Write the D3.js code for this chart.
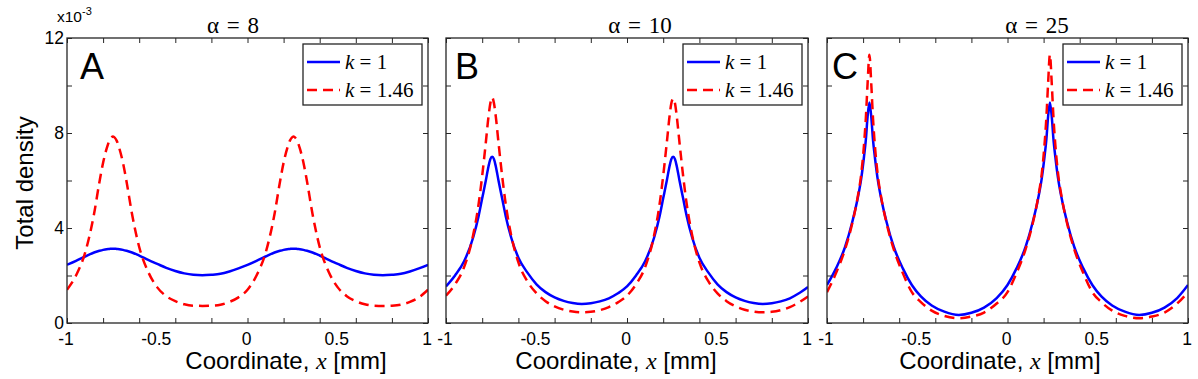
<!DOCTYPE html>
<html>
<head>
<meta charset="utf-8">
<script src="https://cdn.jsdelivr.net/npm/d3@7"></script>
<style>
  body { margin: 0; background: #fff; }
  text { font-family: "Liberation Sans", Arial, sans-serif; fill: #000; }
  .serif { font-family: "Liberation Serif", "Times New Roman", serif; }
</style>
</head>
<body>
<script>
// Total density (x10^-3)

// x grid used for panels A and B (denser near the peaks)
const xAB = [-1, -0.95, -0.9, -0.85, -0.82, -0.8, -0.78, -0.765, -0.755, -0.745,
  -0.735, -0.725, -0.71, -0.69, -0.67, -0.64, -0.6, -0.55, -0.5, -0.45, -0.4, -0.35, -0.3, -0.25,
  -0.2, -0.15, -0.1, -0.05, 0,
  0.05, 0.1, 0.15, 0.18, 0.2, 0.22, 0.235, 0.245, 0.255,
  0.265, 0.275, 0.29, 0.31, 0.33, 0.36, 0.4, 0.45, 0.5, 0.55, 0.6, 0.65, 0.7, 0.75,
  0.8, 0.85, 0.9, 0.95, 1];

// panel C peaks sit a little more to the left
const xC = [-1, -0.95, -0.9, -0.86, -0.83, -0.81, -0.795, -0.785, -0.775, -0.765,
  -0.755, -0.745, -0.735, -0.72, -0.7, -0.67, -0.63, -0.58, -0.53, -0.48,
  -0.42, -0.35, -0.27, -0.2, -0.13, -0.06, 0,
  0.05, 0.1, 0.14, 0.17, 0.19, 0.205, 0.215, 0.225, 0.235,
  0.245, 0.255, 0.265, 0.28, 0.3, 0.33, 0.37, 0.42, 0.47, 0.52,
  0.58, 0.65, 0.73, 0.8, 0.87, 0.94, 1];

// alpha = 8
const densA_k1 = [2.45, 2.62, 2.80, 2.97, 3.04, 3.08, 3.11, 3.12, 3.13, 3.13,
  3.13, 3.12, 3.11, 3.08, 3.04, 2.97, 2.84, 2.66, 2.49, 2.32, 2.19, 2.09, 2.03, 2.01,
  2.03, 2.07, 2.17, 2.30, 2.45,
  2.62, 2.80, 2.97, 3.04, 3.08, 3.11, 3.12, 3.13, 3.13,
  3.13, 3.12, 3.11, 3.08, 3.04, 2.97, 2.84, 2.66, 2.49, 2.32, 2.19, 2.09, 2.03, 2.01,
  2.03, 2.07, 2.17, 2.30, 2.45];
const densA_k146 = [1.40, 2.0, 2.95, 4.6, 5.95, 6.75, 7.35, 7.68, 7.80, 7.85,
  7.80, 7.68, 7.35, 6.75, 5.95, 4.6, 3.2, 2.15, 1.5, 1.13, 0.92, 0.79, 0.73, 0.72,
  0.73, 0.77, 0.89, 1.08, 1.40,
  2.0, 2.95, 4.6, 5.95, 6.75, 7.35, 7.68, 7.80, 7.85,
  7.80, 7.68, 7.35, 6.75, 5.95, 4.6, 3.2, 2.15, 1.5, 1.13, 0.92, 0.79, 0.73, 0.72,
  0.73, 0.77, 0.89, 1.08, 1.40];

// alpha = 10
const densB_k1 = [1.54, 2.0, 2.6, 3.6, 4.5, 5.25, 6.0, 6.6, 6.9, 7.0,
  6.9, 6.6, 6.0, 5.25, 4.5, 3.6, 2.75, 2.12, 1.63, 1.3, 1.08, 0.93, 0.84, 0.80,
  0.83, 0.91, 1.04, 1.25, 1.54,
  2.0, 2.6, 3.6, 4.5, 5.25, 6.0, 6.6, 6.9, 7.0,
  6.9, 6.6, 6.0, 5.25, 4.5, 3.6, 2.75, 2.12, 1.63, 1.3, 1.08, 0.93, 0.84, 0.80,
  0.83, 0.91, 1.04, 1.25, 1.52];
const densB_k146 = [1.15, 1.63, 2.35, 3.7, 5.0, 6.2, 7.6, 8.7, 9.25, 9.5,
  9.25, 8.7, 7.6, 6.2, 5.0, 3.7, 2.55, 1.75, 1.25, 0.92, 0.7, 0.56, 0.48, 0.45,
  0.47, 0.54, 0.67, 0.87, 1.15,
  1.63, 2.35, 3.7, 5.0, 6.2, 7.6, 8.7, 9.25, 9.45,
  9.25, 8.7, 7.6, 6.2, 5.0, 3.7, 2.55, 1.75, 1.25, 0.92, 0.7, 0.56, 0.48, 0.45,
  0.47, 0.54, 0.67, 0.87, 1.12];

// alpha = 25
const densC_k1 = [1.6, 2.3, 3.2, 4.25, 5.25, 6.1, 7.0, 7.7, 8.7, 9.28,
  8.7, 7.7, 7.0, 6.1, 5.25, 4.25, 3.2, 2.3, 1.6, 1.12,
  0.74, 0.48, 0.34, 0.43, 0.65, 1.05, 1.6,
  2.3, 3.2, 4.25, 5.25, 6.1, 7.0, 7.7, 8.7, 9.28,
  8.7, 7.7, 7.0, 6.1, 5.25, 4.25, 3.2, 2.3, 1.6, 1.12,
  0.74, 0.48, 0.34, 0.43, 0.65, 1.05, 1.6];
const densC_k146 = [1.3, 2.1, 3.1, 4.2, 5.3, 6.3, 7.5, 8.6, 10.1, 11.3,
  10.1, 8.6, 7.5, 6.3, 5.3, 4.2, 3.1, 2.1, 1.3, 0.88,
  0.52, 0.3, 0.2, 0.27, 0.44, 0.82, 1.3,
  2.1, 3.1, 4.2, 5.3, 6.3, 7.5, 8.6, 10.1, 11.3,
  10.1, 8.6, 7.5, 6.3, 5.3, 4.2, 3.1, 2.1, 1.3, 0.88,
  0.52, 0.3, 0.2, 0.27, 0.44, 0.82, 1.3];

const alphas = [8, 10, 25];
const letters = ["A", "B", "C"];
const kValues = ["1", "1.46"];

const xTickMarks = [-1, -0.8, -0.6, -0.4, -0.2, 0, 0.2, 0.4, 0.6, 0.8, 1];
const xTickLabels = [-1, -0.5, 0, 0.5, 1];
const yTickMarks = [0, 2, 4, 6, 8, 10, 12];
const yTickLabels = [0, 4, 8, 12];

// layout
const W = 1198, H = 379;
const plotTop = 38, plotBottom = 323;
const panels = [
  {left: 67,  right: 428,  xs: xAB, k1: densA_k1, k146: densA_k146, titleX: 233,  letterX: 80,  xlabX: 286},
  {left: 446, right: 808,  xs: xAB, k1: densB_k1, k146: densB_k146, titleX: 640,  letterX: 455, xlabX: 616},
  {left: 827, right: 1188, xs: xC,  k1: densC_k1, k146: densC_k146, titleX: 1037, letterX: 832, xlabX: 1000}
];
const axisColor = "#262626";
const blue = "#0000ff", red = "#ff0000";
const dash = "10,6";

const svg = d3.select("body").append("svg")
  .attr("width", W)
  .attr("height", H);

panels.forEach(function(p, i) {
  let x = d3.scaleLinear().domain([-1, 1]).range([p.left, p.right]);
  let y = d3.scaleLinear().domain([0, 12]).range([plotBottom, plotTop]);
  let g = svg.append("g");

  g.append("clipPath").attr("id", "clip" + i)
    .append("rect")
    .attr("x", p.left).attr("y", plotTop)
    .attr("width", p.right - p.left).attr("height", plotBottom - plotTop);

  let line = d3.line()
    .x(d => x(d[0]))
    .y(d => y(d[1]))
    .curve(d3.curveMonotoneX);

  let curves = g.append("g").attr("clip-path", "url(#clip" + i + ")");
  curves.append("path")
    .datum(d3.zip(p.xs, p.k1))
    .attr("d", line)
    .style("fill", "none")
    .style("stroke", blue)
    .style("stroke-width", 2.5);
  curves.append("path")
    .datum(d3.zip(p.xs, p.k146))
    .attr("d", line)
    .style("fill", "none")
    .style("stroke", red)
    .style("stroke-width", 2.5)
    .style("stroke-dasharray", dash);

  // inward ticks on all four sides
  let tickAxes = [
    [d3.axisBottom(x).tickValues(xTickMarks), `translate(0,${plotBottom})`],
    [d3.axisTop(x).tickValues(xTickMarks), `translate(0,${plotTop})`],
    [d3.axisLeft(y).tickValues(yTickMarks), `translate(${p.left},0)`],
    [d3.axisRight(y).tickValues(yTickMarks), `translate(${p.right},0)`]
  ];
  tickAxes.forEach(function(a) {
    let ax = g.append("g")
      .attr("transform", a[1])
      .call(a[0].tickSize(-5).tickFormat(""));
    ax.select(".domain").remove();
    ax.selectAll("line").attr("stroke", axisColor).attr("stroke-width", 1);
  });

  g.append("rect")
    .attr("x", p.left).attr("y", plotTop)
    .attr("width", p.right - p.left).attr("height", plotBottom - plotTop)
    .style("fill", "none")
    .style("stroke", axisColor)
    .style("stroke-width", 1.3);

  // tick labels
  g.selectAll(".xl")
    .data(xTickLabels)
    .enter().append("text")
      .attr("x", d => x(d) - 1)
      .attr("y", plotBottom + 22)
      .attr("text-anchor", "middle")
      .style("font-size", "17.5px")
      .text(d => String(d));
  if (i == 0) {
    g.selectAll(".yl")
      .data(yTickLabels)
      .enter().append("text")
        .attr("x", p.left - 3)
        .attr("y", d => y(d) + 6)
        .attr("text-anchor", "end")
        .style("font-size", "17.5px")
        .text(d => String(d));
  }

  // title
  let t = g.append("text")
    .attr("class", "serif")
    .attr("x", p.titleX)
    .attr("y", 33)
    .attr("text-anchor", "middle")
    .style("font-size", "23px")
    .style("word-spacing", "2px");
  t.append("tspan").text("\u03b1");
  t.append("tspan").text(" = " + alphas[i]);

  // panel letter
  g.append("text")
    .attr("x", p.letterX)
    .attr("y", 79)
    .style("font-size", "36px")
    .text(letters[i]);

  // x label
  let xl = g.append("text")
    .attr("x", p.xlabX)
    .attr("y", 369)
    .attr("text-anchor", "middle")
    .style("font-size", "24px");
  xl.append("tspan").text("Coordinate, ");
  xl.append("tspan").attr("class", "serif").style("font-style", "italic").text("x");
  xl.append("tspan").text(" [mm]");

  // legend
  let lw = 119, lh = 61;
  let lx = p.right - 6 - lw, ly = 44;
  let lg = g.append("g").attr("transform", `translate(${lx},${ly})`);
  lg.append("rect")
    .attr("width", lw).attr("height", lh)
    .style("fill", "#fff")
    .style("stroke", axisColor)
    .style("stroke-width", 1.3);
  [[blue, null], [red, dash]].forEach(function(s, j) {
    let yy = 18 + j * 28;
    lg.append("line")
      .attr("x1", 4).attr("x2", 37)
      .attr("y1", yy).attr("y2", yy)
      .style("stroke", s[0])
      .style("stroke-width", 2.5)
      .style("stroke-dasharray", s[1]);
    let lt = lg.append("text")
      .attr("class", "serif")
      .attr("x", 42)
      .attr("y", yy + 7)
      .style("font-size", "21px");
    lt.append("tspan").style("font-style", "italic").text("k");
    lt.append("tspan").text(" = " + kValues[j]);
  });
});

// y axis label and exponent (panel A only)
svg.append("text")
  .attr("transform", "translate(33,183) rotate(-90)")
  .attr("text-anchor", "middle")
  .style("font-size", "24px")
  .text("Total density");

let ex = svg.append("text")
  .attr("x", 57)
  .attr("y", 22)
  .style("font-size", "15.5px");
ex.append("tspan").text("x10");
ex.append("tspan").attr("dy", -7).style("font-size", "11px").text("-3");
</script>
</body>
</html>
